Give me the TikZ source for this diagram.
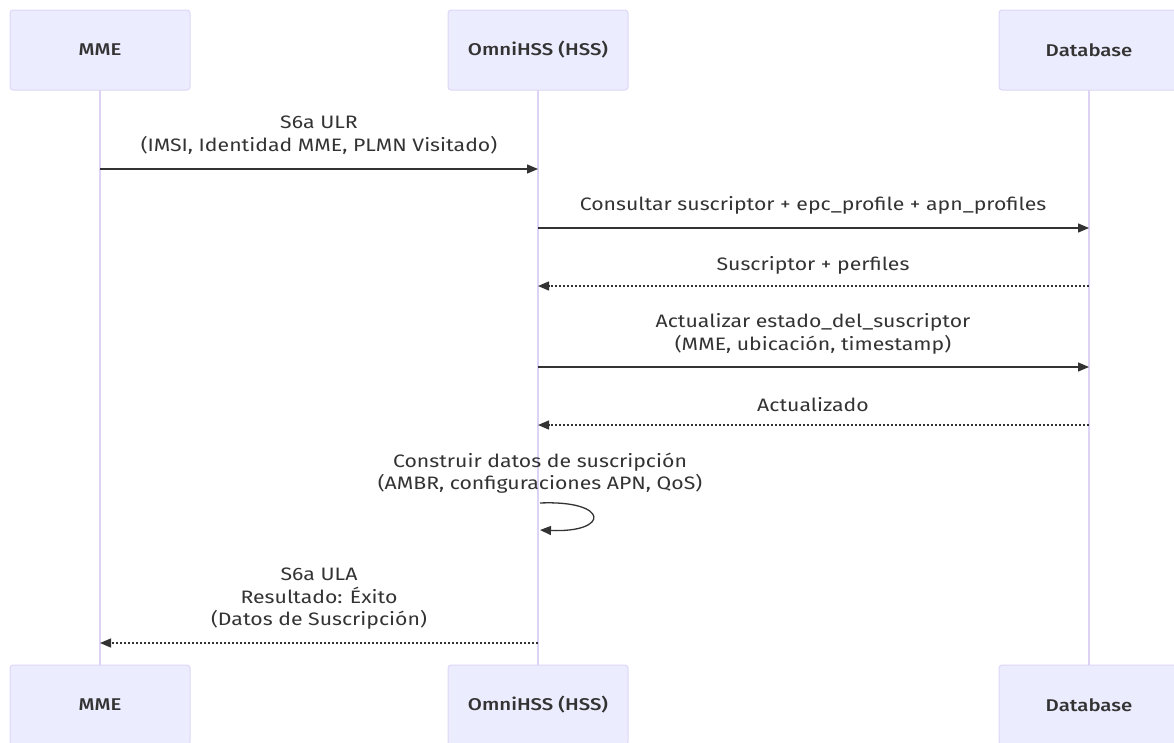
\documentclass[tikz,border=0pt]{standalone}
\usepackage{fontspec}
\setmainfont{Fira Sans}[FakeStretch=1.18]
\newfontfamily\actorfont{Fira Sans Medium}[FakeStretch=1.2]
\usetikzlibrary{arrows.meta}
\definecolor{actfill}{HTML}{ECECFF}
\definecolor{actline}{HTML}{DDD6F7}
\definecolor{lifeline}{HTML}{DCD3F7}
\definecolor{msg}{HTML}{333333}
\tikzset{
  actor/.style={draw=actline, line width=1pt, fill=actfill, rounded corners=3pt, minimum width=180pt, minimum height=80pt, inner sep=0pt, font=\fontsize{17}{19}\selectfont\actorfont, text=msg},
  life/.style={draw=lifeline, line width=1.6pt},
  msgtxt/.style={font=\fontsize{18}{22.5}\selectfont, text=msg, align=center, inner sep=0pt},
  solidmsg/.style={draw=msg, line width=1.3pt, -{Triangle[length=11pt,width=9pt]}},
  dotmsg/.style={draw=msg, line width=1.3pt, dash pattern=on 2pt off 2pt, -{Triangle[length=11pt,width=9pt]}},
}
\begin{document}
\begin{tikzpicture}[x=1pt,y=-1pt]
\useasboundingbox (0,0) rectangle (1174,742);
% lifelines
\coordinate (a1) at (100,90); \coordinate (a2) at (100,665);
\coordinate (b1) at (538,90); \coordinate (b2) at (538,665);
\coordinate (c1) at (1089,90); \coordinate (c2) at (1089,665);
\draw[life] (a1) -- (a2);
\draw[life] (b1) -- (b2);
\draw[life] (c1) -- (c2);
% actors
\node[actor] (mmeT) at (100,50) {MME};
\node[actor] (hssT) at (538,50) {OmniHSS (HSS)};
\node[actor] (dbT) at (1089,50) {Database};
\node[actor] (mmeB) at (100,705) {MME};
\node[actor] (hssB) at (538,705) {OmniHSS (HSS)};
\node[actor] (dbB) at (1089,705) {Database};
% message 1
\node[msgtxt] (t1) at (319,135) {S6a ULR\\(IMSI, Identidad MME, PLMN Visitado)};
\coordinate (m1s) at (100,169); \coordinate (m1e) at (538,169);
\draw[solidmsg] (m1s) -- (m1e);
% message 2
\node[msgtxt] (t2) at (813,205) {Consultar suscriptor + epc\_profile + apn\_profiles};
\coordinate (m2s) at (538,228); \coordinate (m2e) at (1089,228);
\draw[solidmsg] (m2s) -- (m2e);
% message 3
\node[msgtxt] (t3) at (813,265) {Suscriptor + perfiles};
\coordinate (m3s) at (1089,286); \coordinate (m3e) at (538,286);
\draw[dotmsg] (m3s) -- (m3e);
% message 4
\node[msgtxt] (t4) at (813,334) {Actualizar estado\_del\_suscriptor\\(MME, ubicación, timestamp)};
\coordinate (m4s) at (538,367); \coordinate (m4e) at (1089,367);
\draw[solidmsg] (m4s) -- (m4e);
% message 5
\node[msgtxt] (t5) at (813,405) {Actualizado};
\coordinate (m5s) at (1089,425); \coordinate (m5e) at (538,425);
\draw[dotmsg] (m5s) -- (m5e);
% self message
\node[msgtxt] (t6) at (540,473) {Construir datos de suscripción\\(AMBR, configuraciones APN, QoS)};
\coordinate (m6s) at (540,503); \coordinate (m6e) at (540,530);
\draw[solidmsg] (m6s) .. controls (610,500) and (610,533) .. (m6e);
% message 7
\node[msgtxt] (t7) at (319,599) {S6a ULA\\Resultado: Éxito\\(Datos de Suscripción)};
\coordinate (m7s) at (538,643); \coordinate (m7e) at (100,643);
\draw[dotmsg] (m7s) -- (m7e);
\end{tikzpicture}
\end{document}
